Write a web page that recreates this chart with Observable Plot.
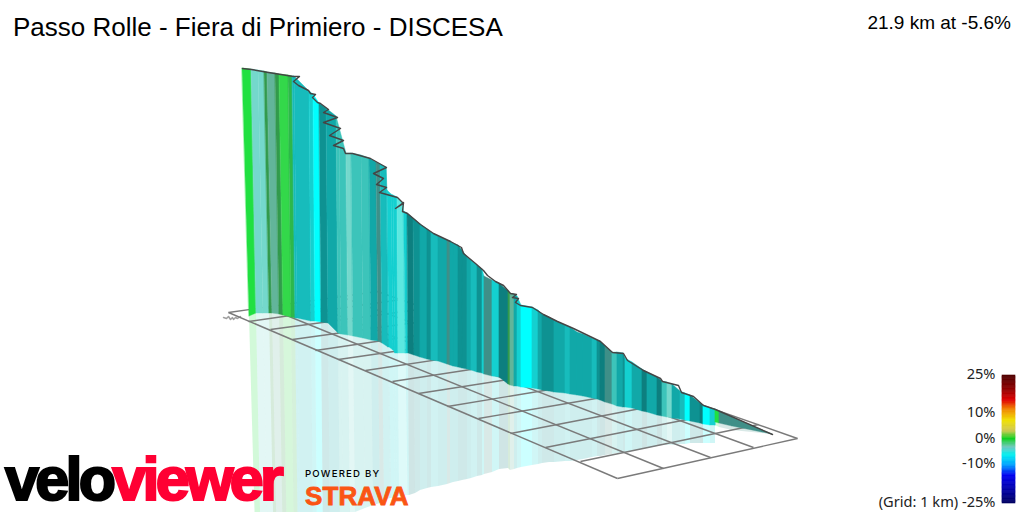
<!DOCTYPE html>
<html>
<head>
<meta charset="utf-8">
<script src="https://cdn.jsdelivr.net/npm/d3@7"></script>
<script src="https://cdn.jsdelivr.net/npm/@observablehq/plot@0.6"></script>
<style>
html,body{margin:0;padding:0;background:#fff;overflow:hidden}
#stage{position:relative;width:1024px;height:512px;overflow:hidden;background:#fff}
#stage svg{position:absolute;background:transparent}
.t{position:absolute;white-space:nowrap;line-height:1}
#title{left:13px;top:12px;font:26px "Liberation Sans",Arial,sans-serif;color:#000}
#stats{right:13px;top:12px;font:19px "Liberation Sans",Arial,sans-serif;color:#000}
#velo{left:5px;top:444px;font:bold 61px "Liberation Sans",Arial,sans-serif;letter-spacing:-3.7px;-webkit-text-stroke:2.2px currentColor}
#velo .a{color:#000}#velo .b{color:#ff0033}
#powered{left:305px;top:468px;font:500 9.6px Inter,"Noto Sans",sans-serif;letter-spacing:1.2px;color:#000}
#strava{left:305px;top:481px;font:bold 26px "Liberation Sans",Arial,sans-serif;color:#fa5514;letter-spacing:.1px;-webkit-text-stroke:.8px #fa5514}
</style>
</head>
<body>
<div id="stage">
  <div class="t" id="title">Passo Rolle - Fiera di Primiero - DISCESA</div>
  <div class="t" id="stats">21.9 km at -5.6%</div>
</div>
<script>
// Wall strips: boundaries, top and foot of each boundary.
const wallTopX  = [242,251,258,264,267,275,279,288,292,294,309,313,319,326,336,339,346,351,361,369,376,380,386,387,391,393,397,403,403.5,407,413,420,427,431,438,447,450,453,458,462,467,471,477,482,484,492,499,508,510,514,517,521,532,538,542,549,554,565,570,577,583,592,597,600,605,612,617,623,625,632,642,647,657,662,667,672,680,685,690,700,703,710,715,715,719,732,772];
const wallTopY  = [68,69,70,71,72,73,74,75,76,76,91,94,103,108,116,127,153,153,155,158,162,164,167,190,194,195,197,203,211,213,218,224,229,232,236,240,241,243,245,250,257,260,265,269,276,280,283,291,293,294,296,305,307,310,314,317,320,325,327,332,334,338,340,341,346,352,352,353,358,362,369,372,377,381,382,384,391,393,395,403,405,408,409,410,411,417,434];
const wallFootX = [249,256,263,269,272,279,283,291,295,297,311,315,321,328,338,341,348,353,363,371,378,382,388,389,393,395,398,405,405.5,408,414,420,427,431,438,447,450,453,458,462,467,471,477,482,484,492,499,508,510,514,517,521,532,538,542,549,554,565,570,577,583,592,597,600,605,612,617,623,625,632,642,647,657,662,667,672,680,685,690,700,703,710,715,715,719,732,772];
const wallFootY = [316,313,313,313,313,314,315,317,318,318,321,321,322,323,333,334,335,336,338,340,341,343,347,347,350,353,353,353,353,353,355,357,359,360,361,364,365,366,367,368,369,370,372,373,374,376,377,384,385,386,386,387,388,389,390,391,392,393,394,395,396,398,399,400,402,404,406,407,407,408,411,412,415,416,417,418,419,420,421,423,424,425,425,422,423,426,434];
const mirrorY   = [564,560,558,556,555,555,555,554,553,552,545,544,542,540,522,520,515,512,508,505,503,500,498,498,497,496,496,495,495,495,493,490,488,487,486,484,483,482,481,480,479,478,476,475,474,472,469,468,470,469,468,467,465,464,463,462,462,461,461,460,459,457,456,456,455,454,453,452,452,451,449,448,446,445,445,445,444,444,443,443,443,443,443,425,427,430,434];
const wallTone  = "A E E C D C B O J J K L H I N N E N N I F J J K K K M M K G H I H J I F I I H H I J H K F K G C D I K L K I H H I J I I I J H G F N I H K I G I G N E I J L H G L K K A F F".split(" ");

const toneNames   = ["A","B","O","C","D","E","F","G","H","I","J","K","L","M","N"];
const toneColours = ["#20e040","#33d84a","#2db84a","#329a4c","#62b59a","#74d8cc","#3f8f88","#0d7f7f","#0e9292","#11a8a8","#17bcbc","#14d0d0","#00ffff","#5ce8e0","#3cc4ba"];

// Dark outline of the road along the top of the wall, switchbacks included.
const roadX = [242,251,268,293,299,293,298,308,310,315,312,317,320,328,323,337,323,340,329,343,333,343,345,352,370,386,373,383,376,386,379,397,403,395,403,402,407,420,433,450,461,463,475,483,487,495,503,510,516,512,518,515,520,532,543,557,573,600,612,623,627,643,660,662,678,681,693,703,715,772];
const roadY = [68,69,72,76,76,81,85,90,93,94,97,102,103,109,112,117,122,128,135,140,145,148,153,153,158,167,173,178,184,187,192,197,203,208,202,211,213,224,233,241,247,253,263,270,275,281,285,293,294,297,298,302,305,307,314,321,328,341,352,353,360,370,378,381,385,392,396,405,409,434];

// Floor grid: cross lines, one per kilometre, then the lengthwise lines.
const crossFrontX = [228,248,270,292,315,338,365,392,418,447,478,510,545,580,617];
const crossFrontY = [312,321,329,339,350,359,370,381,393,406,418,433,447,461,478];
const crossBackX  = [377,401,426,451,477,504,532,561,591,622,654,687,722,758,797];
const crossBackY  = [291,299,308,317,326,335,345,355,366,377,388,399,412,424,438];
const lengthStartX = [228,264,301,337,377];
const lengthStartY = [312,306,301,295,291];
const lengthEndX   = [617,663,710,753,797];
const lengthEndY   = [478,468,457,447,438];

// Small grey scribble at the start of the route.
const scribbleX = [223,226,228,230,232,233,235,237,240];
const scribbleY = [317,318,316,319,317,319,317,318,316];

// Colour key.
const keyStops   = [-25,-14,-10,-6,-3,0.3,3.5,7.5,12,15.3,20,25];
const keyColours = ["#000060","#0000f0","#00a0ff","#00f0f0","#70c8c0","#10d020","#d0c850","#f0e000","#f08000","#e00000","#8a0000","#500000"];
const keyTicks   = [25,10,0,-10,-25];
const keySteps   = d3.range(-25,25,0.5);

const strip = (yBottom, xBottom) => wallTone.flatMap((tone,i)=>[i,i+1].map(j=>({
  strip:i, tone,
  x1:wallTopX[j], y1:yBottom===null?wallTopY[j]:wallFootY[j],
  x2:xBottom(j), y2:yBottom===null?wallFootY[j]:yBottom[j]
})));
const wallRows   = strip(null, j=>wallFootX[j]);
const mirrorRows = strip(mirrorY, j=>wallFootX[j]+(wallFootX[j]-wallTopX[j]));
mirrorRows.forEach((r,k)=>{const j=r.strip+(k%2); r.x1=wallFootX[j];});

const idx = a => a.map((_,i)=>i);
const chart = Plot.plot({
  width:1024,height:512,margin:0,
  x:{domain:[0,1024],range:[0,1024],axis:null},
  y:{domain:[0,512],range:[0,512],axis:null},
  color:{type:"ordinal",domain:toneNames,range:toneColours},
  marks:[
    Plot.area(mirrorRows,{x1:"x1",y1:"y1",x2:"x2",y2:"y2",z:"strip",fill:"tone",fillOpacity:0.2}),
    Plot.line(idx(scribbleX),{x:i=>scribbleX[i],y:i=>scribbleY[i],stroke:"#a0a0a0",strokeWidth:1.5}),
    Plot.link(idx(crossFrontX),{x1:i=>crossFrontX[i],y1:i=>crossFrontY[i],x2:i=>crossBackX[i],y2:i=>crossBackY[i],stroke:"#7a7a7a",strokeWidth:1.4}),
    Plot.link(idx(lengthStartX),{x1:i=>lengthStartX[i],y1:i=>lengthStartY[i],x2:i=>lengthEndX[i],y2:i=>lengthEndY[i],stroke:"#7a7a7a",strokeWidth:1.4}),
    Plot.area(wallRows,{x1:"x1",y1:"y1",x2:"x2",y2:"y2",z:"strip",fill:"tone",stroke:"tone",strokeWidth:0.4}),
    Plot.line(idx(roadX),{x:i=>roadX[i],y:i=>roadY[i],stroke:"#454545",strokeWidth:1.4})
  ]
});
chart.style.left="0";chart.style.top="0";
const stage=document.getElementById("stage");
stage.appendChild(chart);

const key = Plot.plot({
  width:154,height:148,marginLeft:132,marginRight:9,marginTop:10,marginBottom:10,
  style:{fontFamily:"'Noto Sans',sans-serif",fontSize:"14.6px",color:"#222"},
  x:{domain:[0,1],axis:null},
  y:{domain:[-25,25],axis:null},
  color:{type:"linear",domain:keyStops,range:keyColours},
  marks:[
    Plot.rect(keySteps,{x1:0,x2:1,y1:d=>d,y2:d=>d+0.5,fill:d=>d+0.25,stroke:d=>d+0.25,strokeWidth:0.6}),
    Plot.axisY({ticks:keyTicks,tickSize:0,tickPadding:7,fontSize:14.6,dy:-1.5,
      tickFormat:d=>d===-25?"(Grid: 1 km) -25%":d+"%"})
  ]
});
key.style.left="870px";key.style.top="365px";key.style.overflow="visible";
stage.appendChild(key);

stage.insertAdjacentHTML("beforeend",`
  <div class="t" id="velo"><span class="a">velo</span><span class="b">viewer</span></div>
  <div class="t" id="powered">POWERED BY</div>
  <div class="t" id="strava">STRAVA</div>`);
</script>
</body>
</html>
